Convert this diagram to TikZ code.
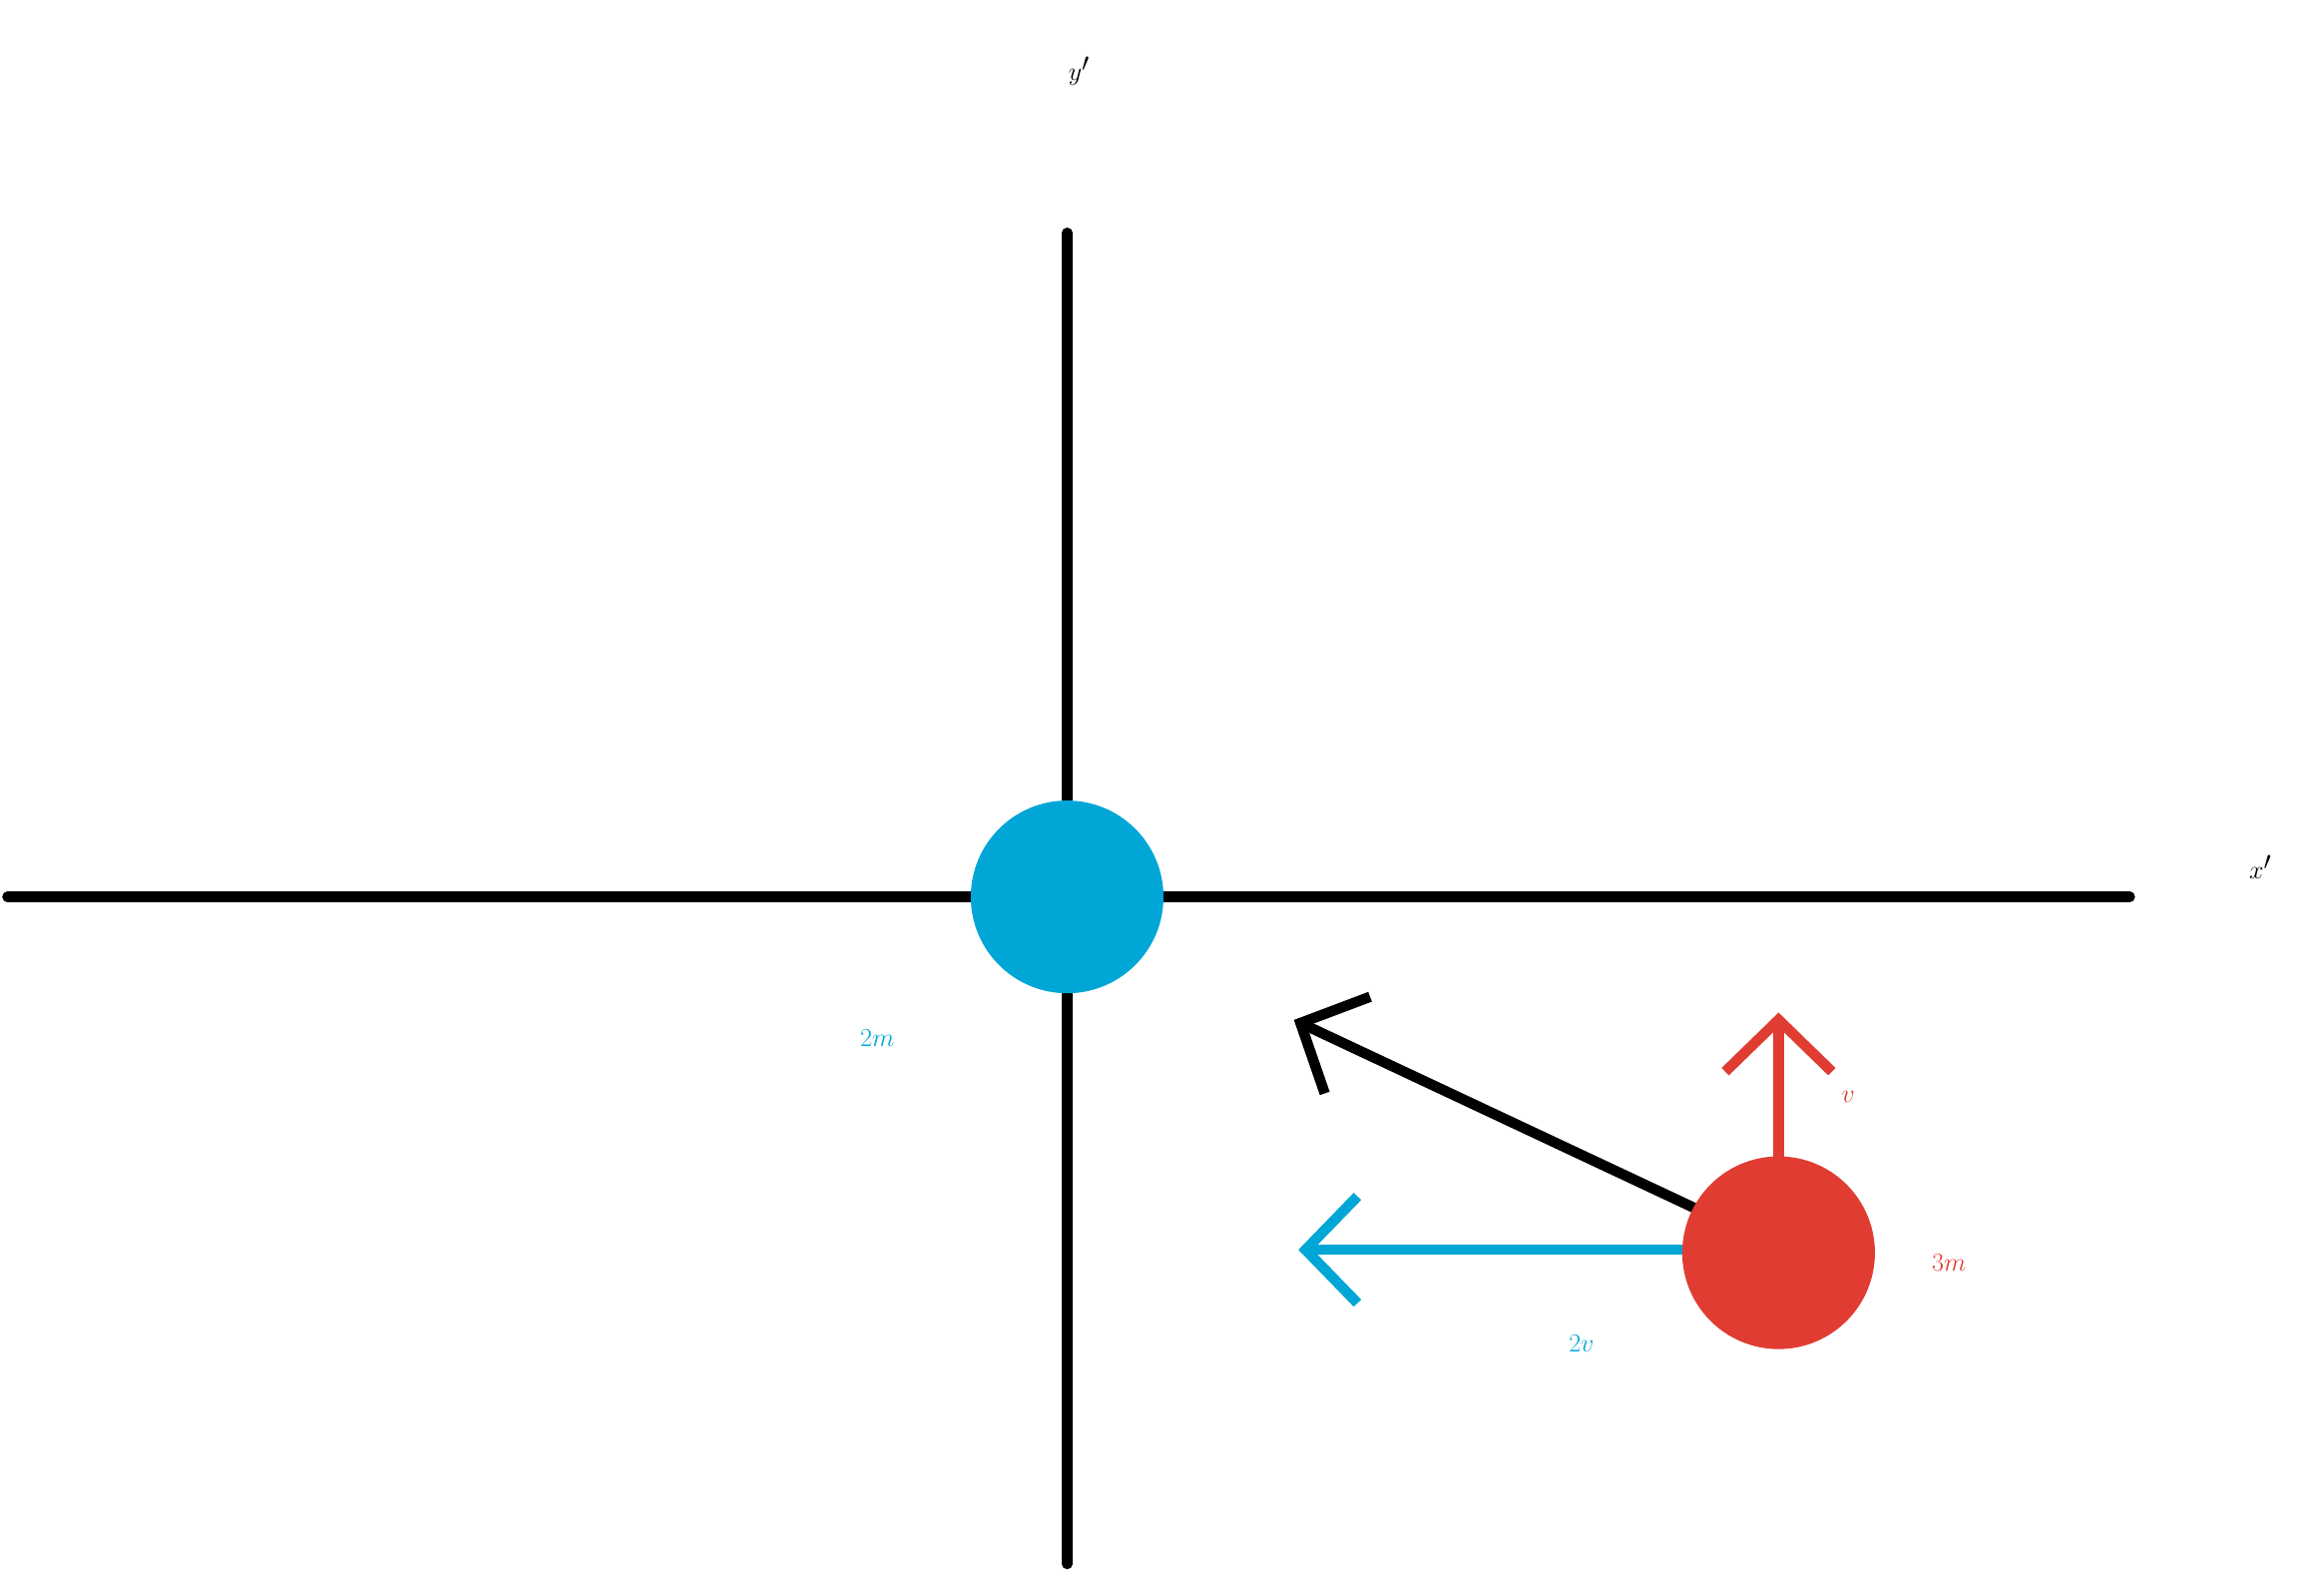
\documentclass[tikz,border=0pt]{standalone}
\usetikzlibrary{arrows.meta}
\definecolor{cblue}{HTML}{00A6D6}
\definecolor{cred}{HTML}{E03C31}
\begin{document}
\begin{tikzpicture}[x=0.05cm,y=-0.05cm,
  axis/.style={line width=0.35cm,line cap=round},
  vec/.style={line width=0.35cm,-{Straight Barb[length=1.75cm,width=3.6cm,line width=0.35cm]}},
  lab/.style={font=\fontsize{135}{150}\selectfont}]
\useasboundingbox (0,0) rectangle (1568,1060);
\draw[axis] (720,157) coordinate (vt) -- (720,1055) coordinate (vb);
\draw[axis] (5,605) coordinate (hl) -- (1437,605) coordinate (hr);
\coordinate (rc) at (1200,845);
\coordinate (bt) at (873,688);
\coordinate (rt) at (1200,683);
\coordinate (lt) at (876,843);
\draw[vec] (1150,818) -- (bt);
\draw[vec,cred] (1200,800) -- (rt);
\draw[vec,cblue] (1150,843) -- (lt);
\node[circle,fill=cblue,minimum size=6.5cm,inner sep=0] (m2) at (720,605) {};
\node[circle,fill=cred,minimum size=6.5cm,inner sep=0] (m3) at (rc) {};
\node[lab] (ly) at (728,48) {$y'$};
\node[lab] (lx) at (1525,585) {$x'$};
\node[lab,cblue] (l2m) at (592,700) {$2m$};
\node[lab,cred] (l3m) at (1315,852) {$3m$};
\node[lab,cred] (lv) at (1247,740) {$v$};
\node[lab,cblue] (l2v) at (1067,906) {$2v$};
\end{tikzpicture}
\end{document}
